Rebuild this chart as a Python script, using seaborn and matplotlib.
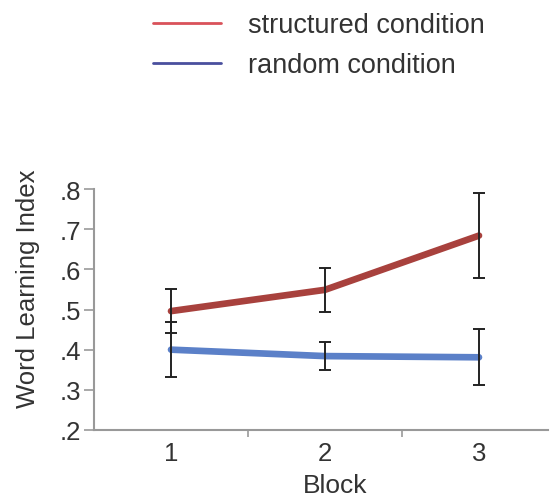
import pandas as pd
import seaborn as sns
import matplotlib.pyplot as plt
from matplotlib.lines import Line2D
from matplotlib.ticker import FixedLocator, FuncFormatter

blocks = [1, 2, 3]
structured = [0.496, 0.549, 0.684]
structured_err = [0.055, 0.055, 0.105]
random_cond = [0.400, 0.384, 0.381]
random_err = [0.069, 0.035, 0.070]
conditions = ["structured condition", "random condition"]

df = pd.DataFrame({
    "Block": blocks * 2,
    "index": structured + random_cond,
    "err": structured_err + random_err,
    "condition": [conditions[0]] * 3 + [conditions[1]] * 3,
})

sns.set_style("white")
plt.rcParams["font.family"] = ["Liberation Sans", "DejaVu Sans"]

fig = plt.figure(figsize=(5.51, 5.02), dpi=100)
ax = fig.add_axes([94 / 551, 1 - 431 / 502, (548 - 94) / 551, (431 - 190) / 502])

line_cols = {conditions[0]: "#a8413d", conditions[1]: "#5b80c8"}
sns.lineplot(data=df, x="Block", y="index", hue="condition", palette=line_cols,
             linewidth=4.8, legend=False, ax=ax, zorder=2)
for cond in conditions:
    sub = df[df["condition"] == cond]
    ax.errorbar(sub["Block"], sub["index"], yerr=sub["err"], fmt="none",
                ecolor="#222222", elinewidth=1.4, capsize=4, capthick=1.4, zorder=3)

ax.set_xlim(0.5, 3.448)
ax.set_ylim(0.2, 0.8)
ax.set_xticks(blocks)
ax.xaxis.set_minor_locator(FixedLocator([1.5, 2.5]))
ax.set_yticks([0.2, 0.3, 0.4, 0.5, 0.6, 0.7, 0.8])
ax.yaxis.set_major_formatter(FuncFormatter(lambda v, p: f"{v:.1f}".lstrip("0")))

for side in ["top", "right"]:
    ax.spines[side].set_visible(False)
for side in ["left", "bottom"]:
    ax.spines[side].set_color("#999999")
    ax.spines[side].set_linewidth(1.5)

ax.tick_params(axis="x", which="major", length=0, labelsize=18.5, colors="#333333", pad=8)
ax.tick_params(axis="x", which="minor", bottom=True, length=5, width=1.2, color="#999999")
ax.tick_params(axis="y", which="major", left=True, length=7, width=1.2, color="#999999",
               labelsize=18.5, labelcolor="#333333", pad=2)

ax.set_xlabel("Block", fontsize=19, color="#333333")
ax.xaxis.set_label_coords(0.531, -0.178)
ax.set_ylabel("Word Learning Index", fontsize=18.5, color="#333333")
ax.yaxis.set_label_coords(-0.119, 0.589)

handles = [Line2D([], [], color="#d9525a", linewidth=2),
           Line2D([], [], color="#4a4f9e", linewidth=2)]
fig.legend(handles, conditions, loc="upper left", bbox_to_anchor=(153 / 551, 1 - 13 / 502),
           frameon=False, fontsize=19.5, handlelength=2.5, handletextpad=1.0,
           labelspacing=0.52, borderpad=0, borderaxespad=0, labelcolor="#333333")

fig.savefig("out.png", dpi=100)
